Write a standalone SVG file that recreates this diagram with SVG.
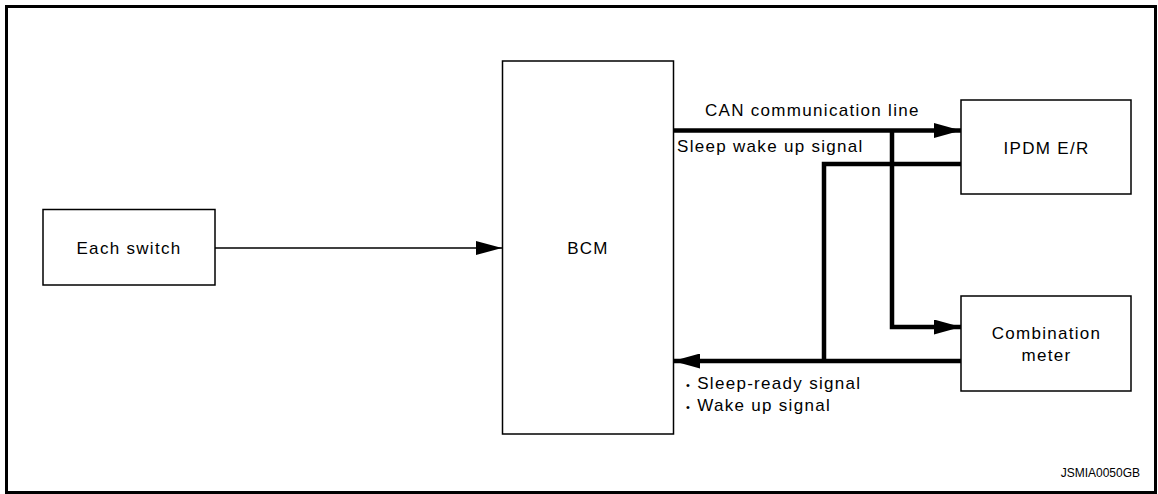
<svg xmlns="http://www.w3.org/2000/svg" width="1158" height="494" viewBox="0 0 1158 494">
<style>
.box{fill:#fff;stroke:#000;stroke-width:1.5}
.lbl{font-family:"Liberation Sans",Arial,sans-serif;font-size:17px;letter-spacing:1.3px;fill:#000}
.mid{text-anchor:middle}
.thick{fill:none;stroke:#000;stroke-width:4.5}
.thin{fill:none;stroke:#000;stroke-width:1.5}
</style>
<defs>
<marker id="ah" markerUnits="userSpaceOnUse" markerWidth="27" markerHeight="15" refX="27" refY="7.5" orient="auto">
<path d="M0,0 L27,7.5 L0,15 Z" fill="#000"/>
</marker>
<marker id="ahs" markerUnits="userSpaceOnUse" markerWidth="26" markerHeight="14" refX="26" refY="7" orient="auto">
<path d="M0,0 L26,7 L0,14 Z" fill="#000"/>
</marker>
</defs>
<rect x="0" y="0" width="1158" height="494" fill="#fff"/>
<rect id="frame" x="6.5" y="6.5" width="1149" height="486" fill="none" stroke="#000" stroke-width="3"/>
<g id="connectors">
<line class="thin" x1="215" y1="248" x2="502" y2="248" marker-end="url(#ahs)"/>
<line class="thick" x1="673" y1="130.5" x2="961" y2="130.5" marker-end="url(#ah)"/>
<polyline class="thick" points="892,130.5 892,327 961,327" marker-end="url(#ah)"/>
<polyline class="thick" points="961,164 824,164 824,362"/>
<line class="thick" x1="961" y1="361" x2="673" y2="361" marker-end="url(#ah)"/>
</g>
<g id="each-switch">
<rect class="box" x="43" y="209.5" width="172" height="75.5"/>
<text class="lbl mid" x="129" y="254">Each switch</text>
</g>
<g id="bcm">
<rect class="box" x="502.5" y="61" width="171" height="373"/>
<text class="lbl mid" x="588" y="254">BCM</text>
</g>
<g id="ipdm">
<rect class="box" x="961" y="100" width="170" height="94"/>
<text class="lbl mid" x="1046.5" y="154">IPDM E/R</text>
</g>
<g id="combination-meter">
<rect class="box" x="961" y="296" width="170" height="95"/>
<text class="lbl mid" x="1046.5" y="339">Combination</text>
<text class="lbl mid" x="1046.5" y="361">meter</text>
</g>
<g id="labels">
<text class="lbl" x="705" y="116">CAN communication line</text>
<text class="lbl" x="677" y="152">Sleep wake up signal</text>
<text class="lbl" x="686" y="389"><tspan font-size="11">•</tspan> Sleep-ready signal</text>
<text class="lbl" x="686" y="411"><tspan font-size="11">•</tspan> Wake up signal</text>
<text x="1140" y="477" text-anchor="end" font-family="Liberation Sans,Arial,sans-serif" font-size="12" fill="#000">JSMIA0050GB</text>
</g>
</svg>
